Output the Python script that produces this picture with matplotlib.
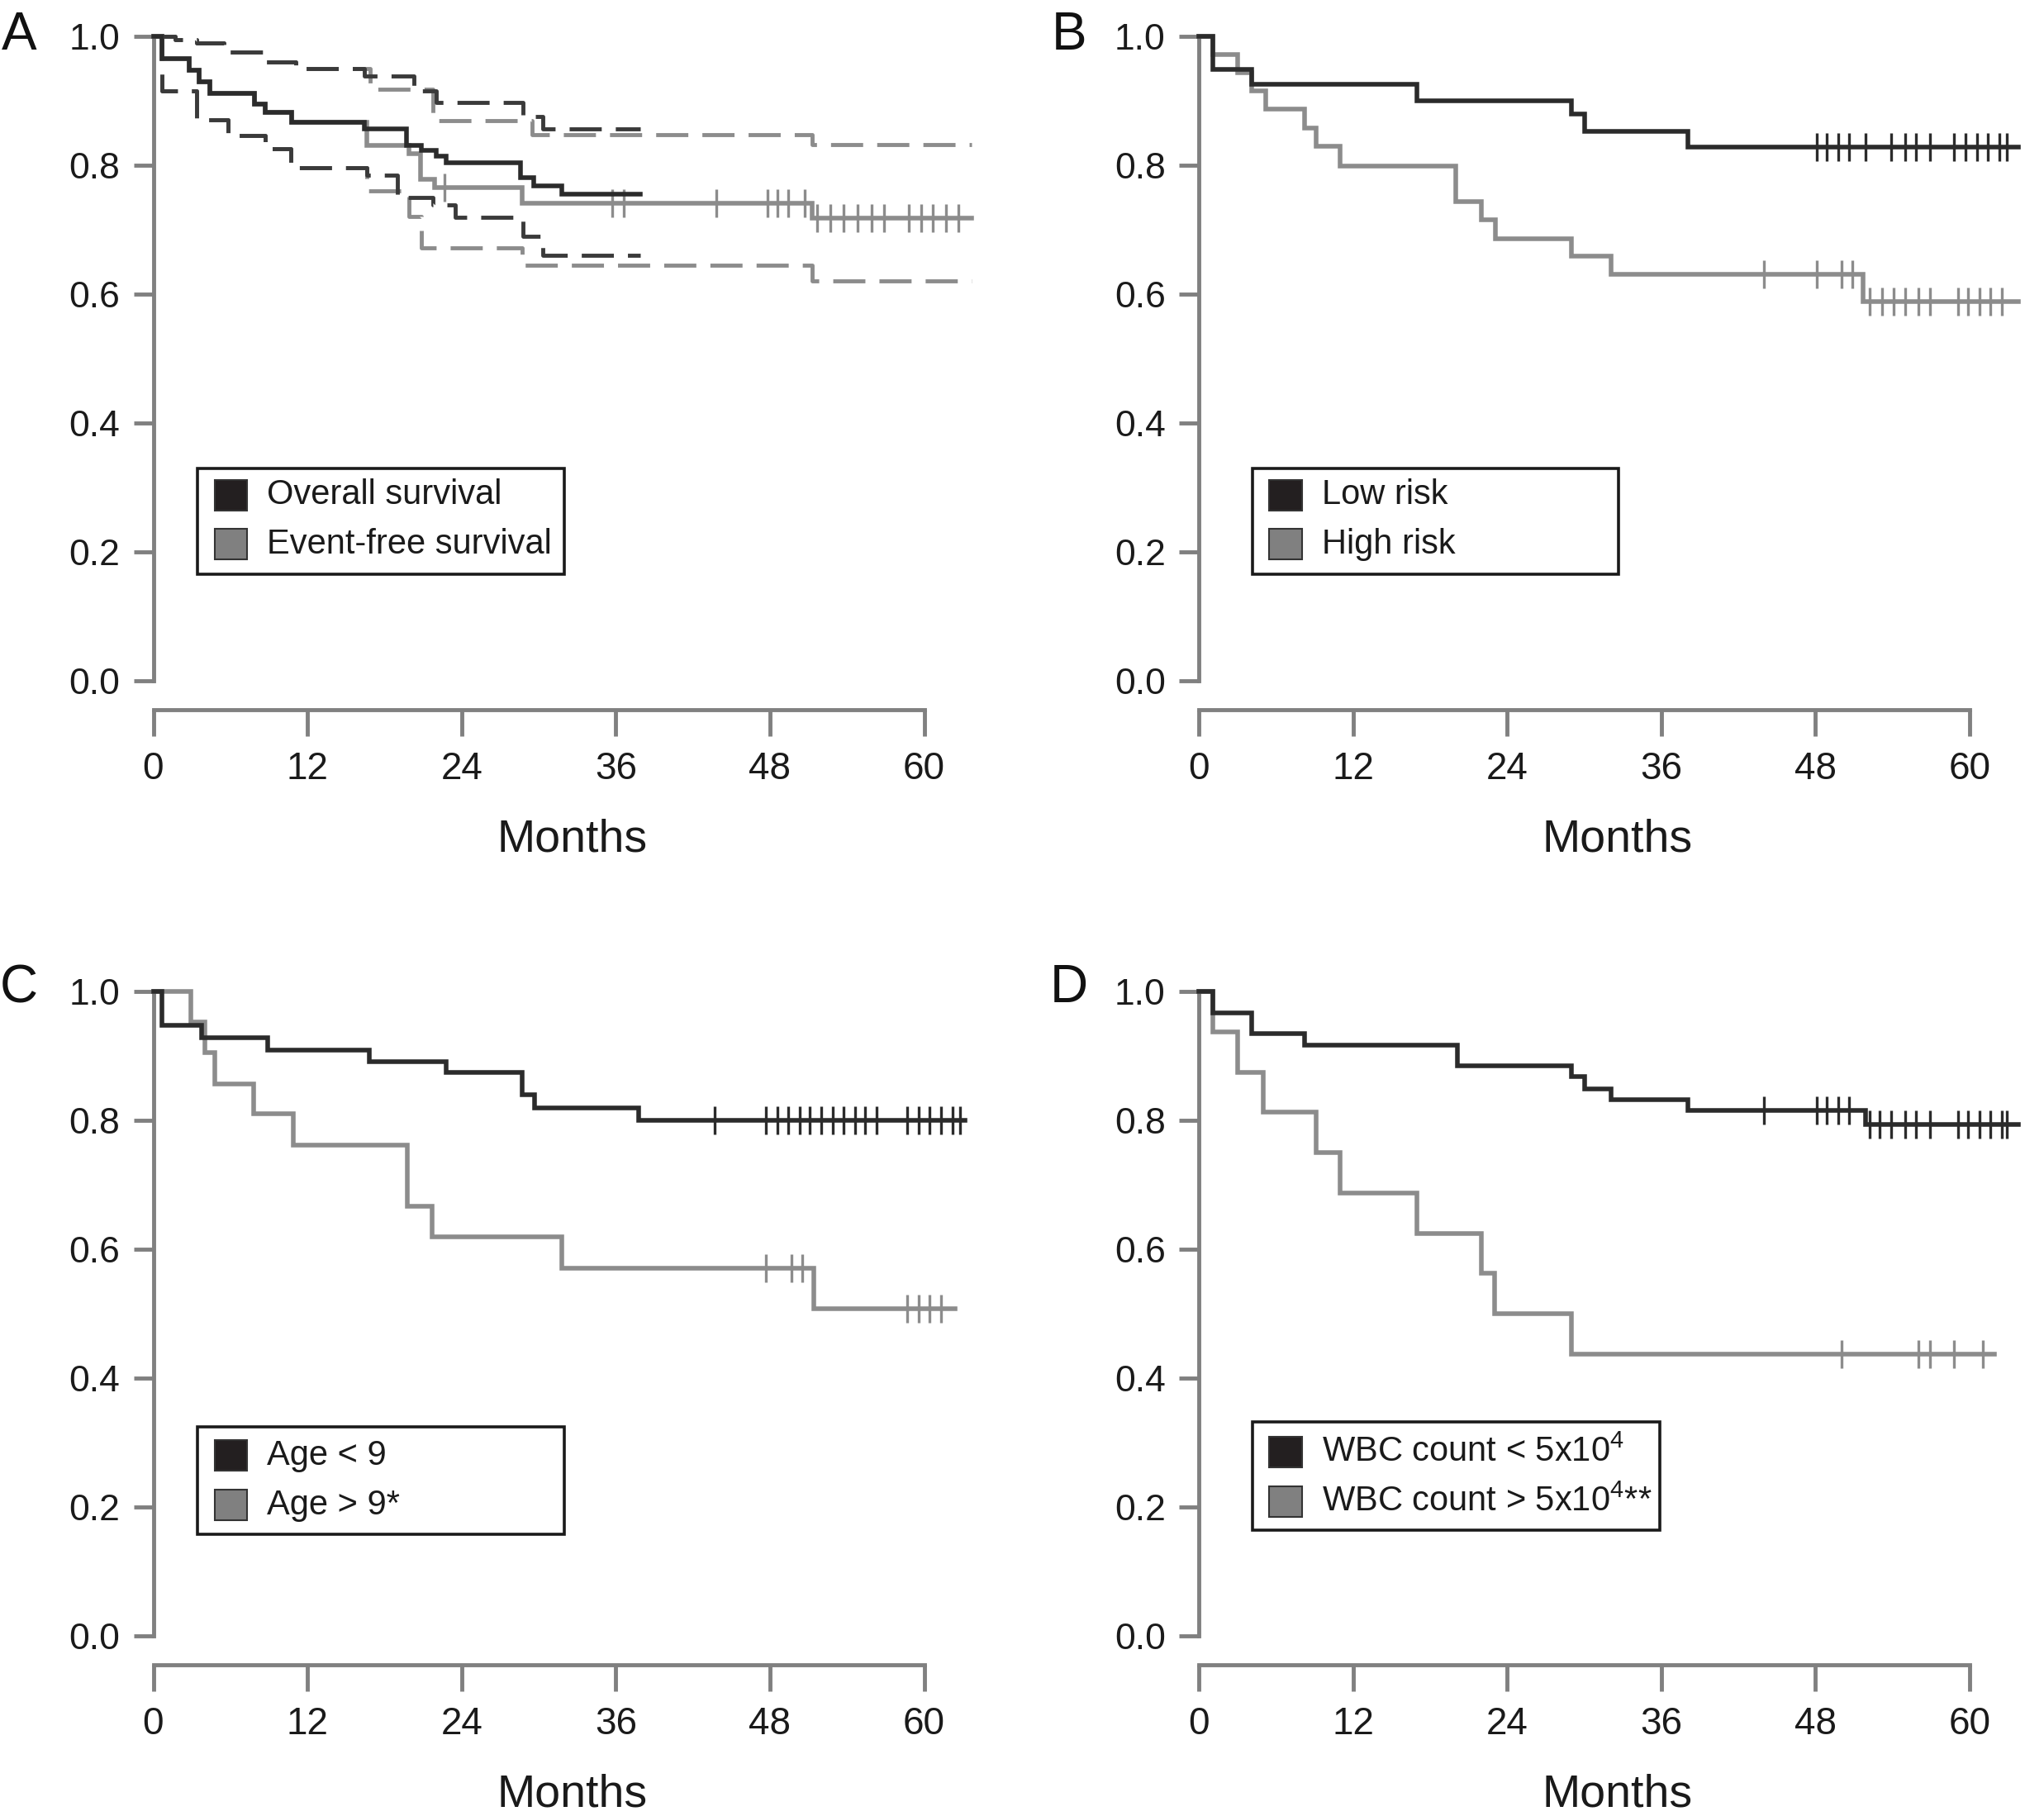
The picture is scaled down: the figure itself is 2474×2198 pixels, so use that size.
import numpy as np
import matplotlib.pyplot as plt
from matplotlib.patches import Rectangle

plt.rcParams['font.family'] = ['Liberation Sans', 'DejaVu Sans']
plt.rcParams['mathtext.fontset'] = 'custom'
plt.rcParams['mathtext.rm'] = 'Liberation Sans'
plt.rcParams['mathtext.it'] = 'Liberation Sans'

BLACK = '#2b2b2b'
GREY = '#8c8c8c'
AXIS = '#808080'

# ---- panel A: overall / event-free survival with confidence bands
efs_t = [0, 0.7, 2.8, 3.6, 4.4, 7.9, 8.7, 10.8, 16.6, 19.9, 20.8, 21.9, 28.7, 51.3, 63.7]
efs_s = [1.0, 0.965, 0.947, 0.93, 0.912, 0.895, 0.882, 0.867, 0.831, 0.818, 0.778, 0.766, 0.741, 0.718, 0.718]
efs_cens = [22.7, 35.7, 36.6, 43.8, 47.8, 48.6, 49.4, 50.7, 51.7, 52.7, 53.7, 54.8, 55.9,
            56.9, 58.8, 59.8, 60.7, 61.7, 62.7]
os_t = [0, 0.7, 2.8, 3.6, 4.4, 7.9, 8.7, 10.8, 16.4, 19.7, 20.9, 22.0, 22.8, 28.6, 29.6, 31.8, 37.9]
os_s = [1.0, 0.965, 0.947, 0.93, 0.912, 0.895, 0.882, 0.867, 0.857, 0.831, 0.823, 0.814, 0.804,
        0.781, 0.768, 0.755, 0.755]

efs_up_t = [0, 1.7, 3.4, 5.5, 8.7, 11.1, 16.9, 21.8, 29.5, 51.3, 63.7]
efs_up_s = [1.0, 0.995, 0.99, 0.976, 0.96, 0.95, 0.918, 0.869, 0.847, 0.832, 0.832]
os_up_t = [0, 1.7, 3.4, 5.5, 8.7, 11.1, 16.4, 20.3, 22.0, 28.8, 30.3, 37.9]
os_up_s = [1.0, 0.995, 0.99, 0.976, 0.96, 0.95, 0.939, 0.916, 0.897, 0.876, 0.857, 0.857]
efs_lo_t = [0, 0.7, 3.4, 5.8, 8.7, 10.7, 16.6, 19.9, 20.9, 28.7, 51.3, 63.7]
efs_lo_s = [1.0, 0.915, 0.87, 0.846, 0.825, 0.796, 0.76, 0.72, 0.672, 0.645, 0.62, 0.62]
os_lo_t = [0, 0.7, 3.4, 5.8, 8.7, 10.7, 16.6, 19.0, 21.8, 23.5, 28.8, 30.3, 37.9]
os_lo_s = [1.0, 0.915, 0.87, 0.846, 0.825, 0.796, 0.785, 0.75, 0.738, 0.719, 0.69, 0.66, 0.66]

# ---- panel B: risk group
lowrisk_t = [0, 1.1, 4.1, 17.0, 29.0, 30.0, 38.1, 63.8]
lowrisk_s = [1.0, 0.949, 0.926, 0.900, 0.879, 0.852, 0.828, 0.828]
lowrisk_cens = [48.1, 48.9, 49.8, 50.6, 51.9, 53.9, 55.0, 55.8, 56.9, 58.8, 59.7, 60.6, 61.4, 62.3, 62.9]
highrisk_t = [0, 1.1, 3.0, 4.1, 5.2, 8.2, 9.1, 11.0, 20.0, 22.0, 23.1, 29.0, 32.1, 51.7, 63.8]
highrisk_s = [1.0, 0.972, 0.944, 0.916, 0.887, 0.858, 0.829, 0.799, 0.744, 0.716, 0.686, 0.659,
              0.631, 0.589, 0.589]
highrisk_cens = [44.0, 48.1, 50.0, 50.9, 52.2, 53.2, 54.1, 55.0, 56.0, 56.9, 59.1, 59.9, 60.8, 61.6, 62.5]

# ---- panel C: age
young_t = [0, 0.7, 3.75, 8.9, 16.8, 22.8, 28.7, 29.7, 37.8, 63.2]
young_s = [1.0, 0.947, 0.928, 0.909, 0.891, 0.874, 0.840, 0.819, 0.800, 0.800]
young_cens = [43.7, 47.7, 48.6, 49.4, 50.3, 51.1, 52.0, 52.9, 53.7, 54.6, 55.4, 56.3,
              58.7, 59.6, 60.4, 61.3, 62.2, 62.8]
old_t = [0, 2.9, 4.0, 4.8, 7.8, 10.9, 19.8, 21.7, 31.8, 51.4, 62.4]
old_s = [1.0, 0.952, 0.905, 0.857, 0.810, 0.762, 0.667, 0.619, 0.571, 0.508, 0.508]
old_cens = [47.7, 49.7, 50.5, 58.7, 59.6, 60.4, 61.3]

# ---- panel D: WBC count
wbclo_t = [0, 1.1, 4.1, 8.2, 20.1, 29.0, 30.0, 32.1, 38.1, 51.9, 63.8]
wbclo_s = [1.0, 0.967, 0.934, 0.917, 0.884, 0.868, 0.849, 0.832, 0.816, 0.794, 0.794]
wbclo_cens = [44.0, 48.1, 48.9, 49.8, 50.6, 52.2, 53.0, 53.9, 55.0, 55.8, 56.9,
              59.1, 59.9, 60.8, 61.6, 62.5, 62.9]
wbchi_t = [0, 1.1, 3.0, 5.0, 9.1, 11.0, 17.0, 22.0, 23.0, 29.0, 61.9]
wbchi_s = [1.0, 0.9375, 0.875, 0.8125, 0.75, 0.6875, 0.625, 0.5625, 0.5, 0.4375, 0.4375]
wbchi_cens = [50.0, 56.0, 56.9, 58.8, 61.0]

y_ticks = [0.0, 0.2, 0.4, 0.6, 0.8, 1.0]
x_ticks = [0, 12, 24, 36, 48, 60]

W, H = 2474, 2198
PXM = 15.55   # pixels per month
PXU = 780.0   # pixels per unit of survival
Y0, Y1 = -0.045, 1.01
fig = plt.figure(figsize=(W / 100, H / 100), dpi=100)


def make_ax(x0_px, top_px):
    # x0_px: pixel column of month 0, top_px: pixel row of survival 1.0
    bottom_px = top_px + (1 - Y0) * PXU
    ax = fig.add_axes([(x0_px - PXM) / W, (H - bottom_px) / H, 66 * PXM / W, (Y1 - Y0) * PXU / H])
    ax.set_xlim(-1, 65)
    ax.set_ylim(Y0, Y1)
    for s in ['top', 'right']:
        ax.spines[s].set_visible(False)
    ax.spines['left'].set_position(('data', 0))
    ax.spines['left'].set_bounds(0, 1)
    ax.spines['bottom'].set_bounds(0, 60)
    for s in ['left', 'bottom']:
        ax.spines[s].set_color(AXIS)
        ax.spines[s].set_linewidth(3.5)
    ax.set_yticks(y_ticks)
    ax.set_yticklabels(['%.1f' % v for v in y_ticks])
    ax.set_xticks(x_ticks)
    ax.tick_params(axis='y', length=17, width=3.5, pad=12, labelsize=32)
    ax.tick_params(axis='x', length=23, width=3.5, pad=13, labelsize=33)
    ax.tick_params(color=AXIS, labelcolor='#1a1a1a')
    ax.text(32.6, -0.265, 'Months', ha='center', va='baseline', fontsize=40,
            color='#1a1a1a', clip_on=False)
    return ax


def km(ax, t, s, color, cens=None, ls='-', lw=4.0, z=3):
    ax.step(t, s, where='post', color=color, lw=lw, ls=ls, zorder=z, solid_joinstyle='miter')
    if cens:
        idx = np.searchsorted(t, cens, side='right') - 1
        ax.plot(cens, np.array(s)[idx], ls='none', marker='|', ms=24, mew=2.4,
                color=color, zorder=z)


def legend(ax, box, items):
    x0, x1, y0, y1 = box
    ax.add_patch(Rectangle((x0, y0), x1 - x0, y1 - y0, fill=False, ec='#1a1a1a', lw=2.6,
                           zorder=5, clip_on=False))
    for color, label, yc in items:
        ax.add_patch(Rectangle((x0 + 1.3, yc - 0.024), 2.55, 0.048, fc=color, ec='#333333',
                               lw=1.5, zorder=6, clip_on=False))
        ax.text(x0 + 5.4, yc, label, ha='left', va='center', fontsize=30, color='#1a1a1a', zorder=6)


# A
axA = make_ax(185.5, 44)
dash = (0, (8, 3.5))
km(axA, efs_up_t, efs_up_s, GREY, ls=dash, lw=3.5, z=2)
km(axA, efs_lo_t, efs_lo_s, GREY, ls=dash, lw=3.5, z=2)
km(axA, os_up_t, os_up_s, '#3a3a3a', ls=dash, lw=3.5, z=2)
km(axA, os_lo_t, os_lo_s, '#3a3a3a', ls=dash, lw=3.5, z=2)
km(axA, efs_t, efs_s, GREY, efs_cens)
km(axA, os_t, os_s, BLACK, z=4)
legend(axA, (3.46, 32.0, 0.166, 0.329),
       [('#231f20', 'Overall survival', 0.288), ('#808080', 'Event-free survival', 0.212)])

# B
axB = make_ax(1451, 44)
km(axB, highrisk_t, highrisk_s, GREY, highrisk_cens)
km(axB, lowrisk_t, lowrisk_s, BLACK, lowrisk_cens, z=4)
legend(axB, (4.17, 32.65, 0.166, 0.329),
       [('#231f20', 'Low risk', 0.288), ('#808080', 'High risk', 0.212)])

# C
axC = make_ax(185.5, 1200)
km(axC, old_t, old_s, GREY, old_cens)
km(axC, young_t, young_s, BLACK, young_cens, z=4)
legend(axC, (3.46, 32.0, 0.158, 0.324),
       [('#231f20', 'Age < 9', 0.280), ('#808080', 'Age > 9*', 0.203)])

# D
axD = make_ax(1451, 1200)
km(axD, wbchi_t, wbchi_s, GREY, wbchi_cens)
km(axD, wbclo_t, wbclo_s, BLACK, wbclo_cens, z=4)
legend(axD, (4.17, 35.9, 0.164, 0.332),
       [('#231f20', 'WBC count < 5x10$^{4}$', 0.285), ('#808080', 'WBC count > 5x10$^{4}$**', 0.208)])

for letter, x, y in [('A', 23, 60), ('B', 1294, 60), ('C', 23, 1213), ('D', 1294, 1213)]:
    fig.text(x / W, 1 - y / H, letter, ha='center', va='baseline', fontsize=46, color='#111111')

fig.savefig('out.png', dpi=100)
